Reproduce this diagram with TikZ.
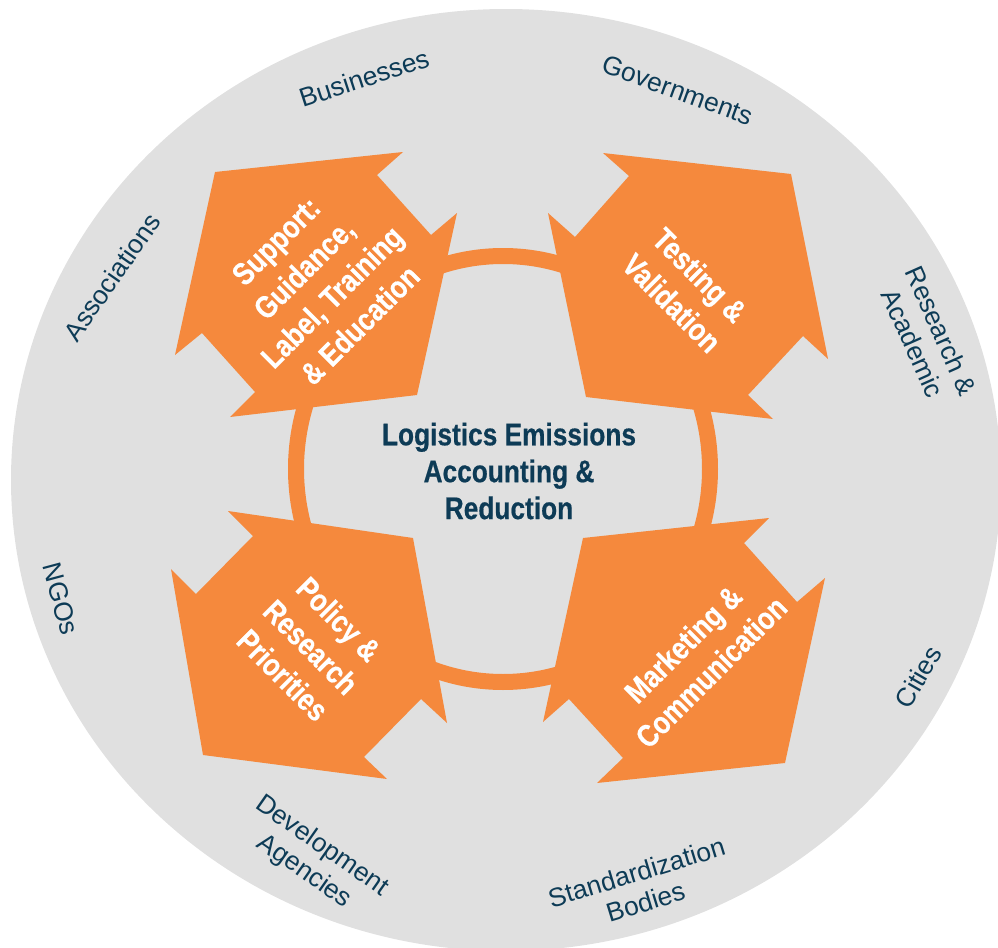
\documentclass[tikz,border=0pt]{standalone}
\usepackage{fontspec}
\setmainfont{Liberation Sans}
\newfontfamily\narrowfont[FakeStretch=0.84,FakeBold=0.5]{Liberation Sans}
\definecolor{rim}{HTML}{E0E0E0}
\definecolor{petalorange}{HTML}{F5893D}
\definecolor{navy}{HTML}{0D3B56}
\tikzset{
  petal/.style={fill=petalorange},
  petaltext/.style={text=white, align=center, font=\narrowfont\bfseries\fontsize{17.8}{22.5}\selectfont},
  hubtext/.style={text=navy, align=center, font=\narrowfont\bfseries\fontsize{17.8}{21}\selectfont},
  rimtext/.style={text=navy, align=center, font=\fontsize{15}{17.6}\selectfont}
}
\begin{document}
\begin{tikzpicture}[x=0.2mm,y=-0.2mm]
\useasboundingbox (0,0) rectangle (998,948);
\clip (0,0) rectangle (998,948);
\fill[rim] (506,480) ellipse [x radius=495, y radius=471];
\draw[petalorange, line width=3.2mm] (503,469) ellipse [x radius=207, y radius=213];
\fill[petal] (215,172) -- (403,152) -- (377,175) -- (431,235) -- (457,213) -- (417,395) -- (230,417) -- (255,392) -- (202,333) -- (175,355) -- cycle;
\fill[petal] (603,153) -- (791,174) -- (828,359) -- (803,336) -- (748,395) -- (773,419) -- (586,397) -- (548,213) -- (575,237) -- (629,176) -- cycle;
\fill[petal] (228,511) -- (253,536) -- (196,594) -- (171,569) -- (203,755) -- (387,779) -- (364,757) -- (421,699) -- (447,723) -- (413,538) -- cycle;
\fill[petal] (583,538) -- (769,518) -- (744,543) -- (797,602) -- (825,578) -- (785,763) -- (597,783) -- (623,758) -- (569,699) -- (543,722) -- cycle;
\node[hubtext] (hub) at (509,471) {Logistics Emissions\\Accounting \&\\Reduction};
\node[petaltext, rotate=45] (supp) at (318,283) {Support:\\Guidance,\\Label, Training\\\& Education};
\node[petaltext, rotate=-45] (test) at (686,289) {Testing \&\\Validation};
\node[petaltext, rotate=-45] (pol) at (311,647) {Policy \&\\Research\\Priorities};
\node[petaltext, rotate=45] (mark) at (697,658) {Marketing \&\\Communication};
\node[rimtext, rotate=18] (busi) at (364,78) {Businesses}; \node[rimtext, rotate=-20] (gov) at (678,90) {Governments};
\node[rimtext, rotate=55] (assoc) at (112,277) {Associations}; \node[rimtext, rotate=-66] (resac) at (927,337) {Research \&\\Academic};
\node[rimtext, rotate=-75] (ngo) at (61,599) {NGOs}; \node[rimtext, rotate=60] (cit) at (918,677) {Cities};
\node[rimtext, rotate=-35] (dev) at (313,859) {Development\\Agencies}; \node[rimtext, rotate=17] (std) at (641,887) {Standardization\\Bodies};
\end{tikzpicture}
\end{document}
